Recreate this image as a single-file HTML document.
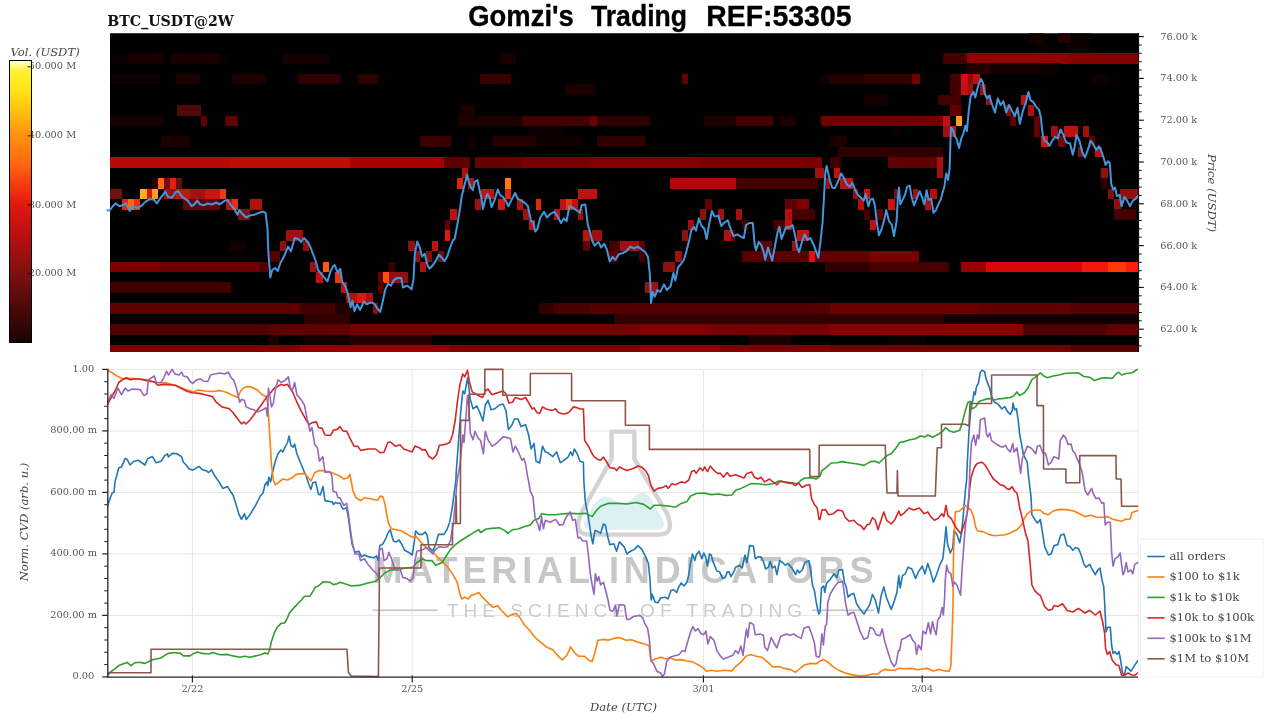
<!DOCTYPE html>
<html lang="en"><head><meta charset="utf-8"><title>Gomzi's Trading REF:53305</title>
<style>
html,body{margin:0;padding:0;background:#fff;}
body{width:1280px;height:720px;overflow:hidden;}
svg{display:block;}
.tk{font-family:'DejaVu Serif', 'Liberation Serif', serif;font-size:9.8px;fill:#555;}
.it{font-family:'DejaVu Serif', 'Liberation Serif', serif;font-style:italic;fill:#444;}
.lg{font-family:'DejaVu Serif', 'Liberation Serif', serif;font-size:11.6px;fill:#444;}
.ln{fill:none;stroke-width:1.6;stroke-linejoin:round;stroke-linecap:round;}
</style></head><body>
<svg width="1280" height="720" viewBox="0 0 1280 720">
<defs>
<linearGradient id="cb" x1="0" y1="0" x2="0" y2="1">
<stop offset="0.0000" stop-color="#ffffe0"/>
<stop offset="0.0089" stop-color="#ffffb8"/>
<stop offset="0.0230" stop-color="#fff870"/>
<stop offset="0.0408" stop-color="#fff030"/>
<stop offset="0.1046" stop-color="#ffe418"/>
<stop offset="0.1649" stop-color="#ffc810"/>
<stop offset="0.2677" stop-color="#ff9010"/>
<stop offset="0.3635" stop-color="#ff6a10"/>
<stop offset="0.4379" stop-color="#f43c10"/>
<stop offset="0.4840" stop-color="#ec2410"/>
<stop offset="0.5124" stop-color="#e01810"/>
<stop offset="0.6223" stop-color="#b81010"/>
<stop offset="0.7535" stop-color="#801010"/>
<stop offset="0.8848" stop-color="#480808"/>
<stop offset="0.9734" stop-color="#260505"/>
<stop offset="1.0000" stop-color="#180303"/>
</linearGradient>
<clipPath id="hc"><rect x="110.0" y="33.25" width="1028.4" height="318.55"/></clipPath>
<clipPath id="lc"><rect x="107" y="368" width="1031.5" height="310"/></clipPath>
</defs>
<rect width="1280" height="720" fill="#fff"/>
<text y="25.8" style="font-family:'Liberation Sans', 'DejaVu Sans', sans-serif;font-weight:bold;font-size:30.4px;fill:#000;stroke:#000;stroke-width:0.35;stroke-linejoin:round;">
<tspan x="468.3" textLength="105.5" lengthAdjust="spacingAndGlyphs">Gomzi's</tspan>
<tspan x="591" textLength="96" lengthAdjust="spacingAndGlyphs">Trading</tspan>
<tspan x="706.2" textLength="145.3" lengthAdjust="spacingAndGlyphs">REF:53305</tspan>
</text>
<text x="107.3" y="26.2" style="font-family:'DejaVu Serif', 'Liberation Serif', serif;font-weight:bold;font-size:14.2px;fill:#111;">BTC_USDT@2W</text>
<text class="it" x="10.5" y="55.6" style="font-size:11.6px;">Vol. (USDT)</text>
<text class="tk" x="28.8" y="69.4">50.000 M</text>
<text class="tk" x="28.8" y="138.4">40.000 M</text>
<text class="tk" x="28.8" y="207.5">30.000 M</text>
<text class="tk" x="28.8" y="276.4">20.000 M</text>
<rect x="9.5" y="60.5" width="22" height="282" fill="url(#cb)" stroke="#000" stroke-width="1"/>
<line x1="27.5" y1="66.8" x2="31.5" y2="66.8" stroke="#000" stroke-width="0.8"/>
<line x1="27.5" y1="135.8" x2="31.5" y2="135.8" stroke="#000" stroke-width="0.8"/>
<line x1="27.5" y1="204.8" x2="31.5" y2="204.8" stroke="#000" stroke-width="0.8"/>
<line x1="27.5" y1="273.8" x2="31.5" y2="273.8" stroke="#000" stroke-width="0.8"/>
<rect x="110.0" y="33.25" width="1028.4" height="318.55" fill="#000"/>
<g clip-path="url(#hc)" shape-rendering="crispEdges">
<rect x="1029" y="32.1" width="15" height="10.5" fill="#170000"/>
<rect x="1058" y="32.1" width="13" height="10.5" fill="#250000"/>
<rect x="1071" y="32.1" width="19" height="10.5" fill="#0c0000"/>
<rect x="1066" y="42.5" width="23" height="10.5" fill="#0f0000"/>
<rect x="1034" y="42.5" width="16" height="10.5" fill="#090000"/>
<rect x="110.2" y="53" width="17.8" height="10.5" fill="#090000"/>
<rect x="128" y="53" width="36" height="10.5" fill="#190000"/>
<rect x="170" y="53" width="50" height="10.5" fill="#190000"/>
<rect x="220" y="53" width="10" height="10.5" fill="#090000"/>
<rect x="282" y="53" width="47" height="10.5" fill="#130000"/>
<rect x="500" y="53" width="16" height="10.5" fill="#190000"/>
<rect x="943" y="53" width="24" height="10.5" fill="#440000"/>
<rect x="967" y="53" width="103" height="10.5" fill="#940000"/>
<rect x="1070" y="53" width="68.4" height="10.5" fill="#840000"/>
<rect x="967" y="63.4" width="24" height="10.5" fill="#250000"/>
<rect x="991" y="63.4" width="60" height="10.5" fill="#170000"/>
<rect x="1040" y="63.4" width="20" height="10.5" fill="#0f0000"/>
<rect x="110.2" y="73.8" width="49.8" height="10.5" fill="#0c0000"/>
<rect x="176" y="73.8" width="24" height="10.5" fill="#1c0000"/>
<rect x="232" y="73.8" width="34" height="10.5" fill="#1c0000"/>
<rect x="298" y="73.8" width="43" height="10.5" fill="#310000"/>
<rect x="358" y="73.8" width="20" height="10.5" fill="#2e0000"/>
<rect x="480" y="73.8" width="31" height="10.5" fill="#390000"/>
<rect x="682" y="73.8" width="6" height="10.5" fill="#600000"/>
<rect x="820" y="73.8" width="10" height="10.5" fill="#0f0000"/>
<rect x="830" y="73.8" width="34" height="10.5" fill="#250000"/>
<rect x="864" y="73.8" width="48" height="10.5" fill="#330000"/>
<rect x="912" y="73.8" width="8" height="10.5" fill="#700000"/>
<rect x="950" y="73.8" width="11" height="10.5" fill="#440000"/>
<rect x="961" y="73.8" width="7" height="10.5" fill="#d01010"/>
<rect x="968" y="73.8" width="5" height="10.5" fill="#900808"/>
<rect x="973" y="73.8" width="7" height="10.5" fill="#c01010"/>
<rect x="1092" y="73.8" width="18" height="10.5" fill="#0f0000"/>
<rect x="565" y="84.2" width="31" height="10.5" fill="#1c0000"/>
<rect x="950" y="84.2" width="11" height="10.5" fill="#440000"/>
<rect x="961" y="84.2" width="7" height="10.5" fill="#c01010"/>
<rect x="968" y="84.2" width="5" height="10.5" fill="#a01010"/>
<rect x="980" y="84.2" width="6" height="10.5" fill="#a01010"/>
<rect x="864" y="94.7" width="24" height="10.5" fill="#150000"/>
<rect x="938" y="94.7" width="23" height="10.5" fill="#440000"/>
<rect x="986" y="94.7" width="5" height="10.5" fill="#a01010"/>
<rect x="1021" y="94.7" width="6" height="10.5" fill="#c01010"/>
<rect x="176.6" y="105.1" width="24.4" height="10.5" fill="#500808"/>
<rect x="460" y="105.1" width="15" height="10.5" fill="#1c0000"/>
<rect x="950" y="105.1" width="11" height="10.5" fill="#600000"/>
<rect x="1006" y="105.1" width="5" height="10.5" fill="#801010"/>
<rect x="1028" y="105.1" width="6" height="10.5" fill="#b01010"/>
<rect x="110.2" y="115.5" width="53.8" height="10.5" fill="#170000"/>
<rect x="201" y="115.5" width="6" height="10.5" fill="#600000"/>
<rect x="225" y="115.5" width="12.5" height="10.5" fill="#600000"/>
<rect x="458" y="115.5" width="64" height="10.5" fill="#1c0000"/>
<rect x="522" y="115.5" width="68" height="10.5" fill="#440000"/>
<rect x="590" y="115.5" width="6.5" height="10.5" fill="#700000"/>
<rect x="596.5" y="115.5" width="53.5" height="10.5" fill="#2e0000"/>
<rect x="704" y="115.5" width="32" height="10.5" fill="#1c0000"/>
<rect x="736" y="115.5" width="37" height="10.5" fill="#440000"/>
<rect x="779" y="115.5" width="17" height="10.5" fill="#1c0000"/>
<rect x="820.6" y="115.5" width="9.4" height="10.5" fill="#700000"/>
<rect x="830" y="115.5" width="113.4" height="10.5" fill="#6c0000"/>
<rect x="943.4" y="115.5" width="6.6" height="10.5" fill="#c01010"/>
<rect x="955.6" y="115.5" width="6.4" height="10.5" fill="#ffa010"/>
<rect x="1010" y="115.5" width="5.6" height="10.5" fill="#600000"/>
<rect x="1034" y="115.5" width="6" height="10.5" fill="#600000"/>
<rect x="528" y="126" width="37" height="10.5" fill="#090000"/>
<rect x="894" y="126" width="7" height="10.5" fill="#0f0000"/>
<rect x="943.4" y="126" width="6.6" height="10.5" fill="#a01010"/>
<rect x="950" y="126" width="5.6" height="10.5" fill="#c01010"/>
<rect x="1034" y="126" width="6" height="10.5" fill="#600000"/>
<rect x="1051" y="126" width="7" height="10.5" fill="#a01010"/>
<rect x="1064" y="126" width="13.5" height="10.5" fill="#c01010"/>
<rect x="1082.8" y="126" width="6.2" height="10.5" fill="#a01010"/>
<rect x="160.6" y="136.4" width="29.1" height="10.5" fill="#1c0000"/>
<rect x="420" y="136.4" width="31" height="10.5" fill="#390000"/>
<rect x="468" y="136.4" width="8" height="10.5" fill="#0f0000"/>
<rect x="493" y="136.4" width="42.6" height="10.5" fill="#250000"/>
<rect x="535.6" y="136.4" width="46.4" height="10.5" fill="#0f0000"/>
<rect x="596.5" y="136.4" width="48.5" height="10.5" fill="#2e0000"/>
<rect x="830" y="136.4" width="17" height="10.5" fill="#1c0000"/>
<rect x="1041" y="136.4" width="6.5" height="10.5" fill="#e01010"/>
<rect x="1058" y="136.4" width="6.5" height="10.5" fill="#700808"/>
<rect x="1089" y="136.4" width="6" height="10.5" fill="#600000"/>
<rect x="837.5" y="146.8" width="105" height="10.5" fill="#2e0000"/>
<rect x="1077.5" y="146.8" width="5.2" height="10.5" fill="#801010"/>
<rect x="1095" y="146.8" width="7" height="10.5" fill="#c01010"/>
<rect x="110.2" y="157.3" width="119.8" height="10.5" fill="#b80a05"/>
<rect x="230" y="157.3" width="120" height="10.5" fill="#c00c06"/>
<rect x="350" y="157.3" width="93.8" height="10.5" fill="#a80000"/>
<rect x="443.8" y="157.3" width="26.2" height="10.5" fill="#5c0000"/>
<rect x="474.7" y="157.3" width="47.3" height="10.5" fill="#680000"/>
<rect x="522" y="157.3" width="68" height="10.5" fill="#780000"/>
<rect x="590" y="157.3" width="110" height="10.5" fill="#840000"/>
<rect x="700" y="157.3" width="121.6" height="10.5" fill="#7a0000"/>
<rect x="830" y="157.3" width="11" height="10.5" fill="#400000"/>
<rect x="888" y="157.3" width="49" height="10.5" fill="#600000"/>
<rect x="937" y="157.3" width="6.4" height="10.5" fill="#a81010"/>
<rect x="462" y="167.7" width="6" height="10.5" fill="#b01010"/>
<rect x="815" y="167.7" width="9" height="10.5" fill="#a01010"/>
<rect x="833.8" y="167.7" width="6.2" height="10.5" fill="#c01010"/>
<rect x="937" y="167.7" width="6.4" height="10.5" fill="#a01010"/>
<rect x="1101" y="167.7" width="6.5" height="10.5" fill="#901010"/>
<rect x="152" y="178.1" width="6" height="10.5" fill="#2e0000"/>
<rect x="158" y="178.1" width="6.4" height="10.5" fill="#ff6a10"/>
<rect x="164.4" y="178.1" width="5.6" height="10.5" fill="#701010"/>
<rect x="170.2" y="178.1" width="6" height="10.5" fill="#e02010"/>
<rect x="176.2" y="178.1" width="5.8" height="10.5" fill="#601010"/>
<rect x="456.5" y="178.1" width="6" height="10.5" fill="#e02010"/>
<rect x="468" y="178.1" width="6" height="10.5" fill="#b01010"/>
<rect x="504.7" y="178.1" width="6.2" height="10.5" fill="#ff7a10"/>
<rect x="669.7" y="178.1" width="66.2" height="10.5" fill="#b00808"/>
<rect x="736" y="178.1" width="81.8" height="10.5" fill="#440000"/>
<rect x="826" y="178.1" width="4" height="10.5" fill="#a01010"/>
<rect x="840" y="178.1" width="12.5" height="10.5" fill="#c01010"/>
<rect x="1101" y="178.1" width="6.5" height="10.5" fill="#2e0000"/>
<rect x="110.2" y="188.5" width="11.8" height="10.5" fill="#701010"/>
<rect x="140.4" y="188.5" width="6.2" height="10.5" fill="#ffb020"/>
<rect x="146.6" y="188.5" width="5.6" height="10.5" fill="#d01810"/>
<rect x="152.2" y="188.5" width="6" height="10.5" fill="#ffa018"/>
<rect x="164.4" y="188.5" width="11.6" height="10.5" fill="#a01010"/>
<rect x="176" y="188.5" width="14" height="10.5" fill="#c01810"/>
<rect x="190" y="188.5" width="15" height="10.5" fill="#a81010"/>
<rect x="205" y="188.5" width="14.7" height="10.5" fill="#c41810"/>
<rect x="219.7" y="188.5" width="6.6" height="10.5" fill="#f03818"/>
<rect x="480.9" y="188.5" width="13.5" height="10.5" fill="#c01010"/>
<rect x="504.7" y="188.5" width="6.2" height="10.5" fill="#e02010"/>
<rect x="577.8" y="188.5" width="18.7" height="10.5" fill="#c01010"/>
<rect x="852.5" y="188.5" width="5.5" height="10.5" fill="#901010"/>
<rect x="863.8" y="188.5" width="6.2" height="10.5" fill="#d01010"/>
<rect x="893.8" y="188.5" width="3.8" height="10.5" fill="#701010"/>
<rect x="912.5" y="188.5" width="5.5" height="10.5" fill="#a01010"/>
<rect x="930" y="188.5" width="7" height="10.5" fill="#b01010"/>
<rect x="1107.5" y="188.5" width="6.5" height="10.5" fill="#801010"/>
<rect x="1119.7" y="188.5" width="18.7" height="10.5" fill="#901010"/>
<rect x="122.2" y="199" width="5.8" height="10.5" fill="#e02810"/>
<rect x="128" y="199" width="6" height="10.5" fill="#ff6a10"/>
<rect x="134" y="199" width="6" height="10.5" fill="#e83010"/>
<rect x="183" y="199" width="37" height="10.5" fill="#600808"/>
<rect x="226.3" y="199" width="5.2" height="10.5" fill="#c01010"/>
<rect x="231.5" y="199" width="6" height="10.5" fill="#e83010"/>
<rect x="249.7" y="199" width="12.3" height="10.5" fill="#b01010"/>
<rect x="474.7" y="199" width="6.2" height="10.5" fill="#a01010"/>
<rect x="498" y="199" width="6.7" height="10.5" fill="#d01810"/>
<rect x="516.9" y="199" width="6.5" height="10.5" fill="#b01010"/>
<rect x="535.6" y="199" width="5.6" height="10.5" fill="#e02810"/>
<rect x="560" y="199" width="6" height="10.5" fill="#c01010"/>
<rect x="566" y="199" width="6" height="10.5" fill="#f03010"/>
<rect x="572" y="199" width="5.8" height="10.5" fill="#c01010"/>
<rect x="705" y="199" width="7" height="10.5" fill="#600000"/>
<rect x="785" y="199" width="12" height="10.5" fill="#600000"/>
<rect x="797" y="199" width="12" height="10.5" fill="#800000"/>
<rect x="858" y="199" width="5.8" height="10.5" fill="#b01010"/>
<rect x="888" y="199" width="6.7" height="10.5" fill="#d01010"/>
<rect x="924.7" y="199" width="6.3" height="10.5" fill="#b01010"/>
<rect x="1114" y="199" width="6.6" height="10.5" fill="#901010"/>
<rect x="237.5" y="209.4" width="12.2" height="10.5" fill="#801010"/>
<rect x="450.3" y="209.4" width="6.6" height="10.5" fill="#c01010"/>
<rect x="523.4" y="209.4" width="5.6" height="10.5" fill="#a01010"/>
<rect x="554.4" y="209.4" width="5.6" height="10.5" fill="#b01010"/>
<rect x="577.8" y="209.4" width="5.6" height="10.5" fill="#a01010"/>
<rect x="699.7" y="209.4" width="6.3" height="10.5" fill="#901010"/>
<rect x="717.5" y="209.4" width="6.5" height="10.5" fill="#a01010"/>
<rect x="736" y="209.4" width="6" height="10.5" fill="#a01010"/>
<rect x="785" y="209.4" width="6.6" height="10.5" fill="#b01010"/>
<rect x="791.6" y="209.4" width="23.4" height="10.5" fill="#440000"/>
<rect x="863.8" y="209.4" width="6.2" height="10.5" fill="#440000"/>
<rect x="877" y="209.4" width="5.5" height="10.5" fill="#600000"/>
<rect x="1114" y="209.4" width="21.6" height="10.5" fill="#440000"/>
<rect x="444.7" y="219.8" width="5.6" height="10.5" fill="#600000"/>
<rect x="529" y="219.8" width="5.7" height="10.5" fill="#c01010"/>
<rect x="688" y="219.8" width="6" height="10.5" fill="#a01010"/>
<rect x="742" y="219.8" width="5.5" height="10.5" fill="#440000"/>
<rect x="773" y="219.8" width="12" height="10.5" fill="#440000"/>
<rect x="785" y="219.8" width="6.6" height="10.5" fill="#c01010"/>
<rect x="870" y="219.8" width="6" height="10.5" fill="#c01010"/>
<rect x="286" y="230.3" width="17" height="10.5" fill="#a01010"/>
<rect x="444.7" y="230.3" width="5.6" height="10.5" fill="#e01810"/>
<rect x="583.4" y="230.3" width="6.6" height="10.5" fill="#c01010"/>
<rect x="592" y="230.3" width="10" height="10.5" fill="#a01010"/>
<rect x="682" y="230.3" width="6" height="10.5" fill="#901010"/>
<rect x="724" y="230.3" width="6.6" height="10.5" fill="#b01010"/>
<rect x="730.6" y="230.3" width="4.4" height="10.5" fill="#600000"/>
<rect x="797" y="230.3" width="12.4" height="10.5" fill="#c01010"/>
<rect x="230" y="240.7" width="15" height="10.5" fill="#150000"/>
<rect x="279.7" y="240.7" width="6.3" height="10.5" fill="#901010"/>
<rect x="303" y="240.7" width="6" height="10.5" fill="#901010"/>
<rect x="408" y="240.7" width="6.7" height="10.5" fill="#901010"/>
<rect x="432" y="240.7" width="6" height="10.5" fill="#c01010"/>
<rect x="583.4" y="240.7" width="6.6" height="10.5" fill="#600000"/>
<rect x="608.8" y="240.7" width="11.2" height="10.5" fill="#440000"/>
<rect x="620" y="240.7" width="18.8" height="10.5" fill="#a01010"/>
<rect x="638.8" y="240.7" width="6.2" height="10.5" fill="#600000"/>
<rect x="759.7" y="240.7" width="12.3" height="10.5" fill="#600000"/>
<rect x="791.6" y="240.7" width="5.4" height="10.5" fill="#a01010"/>
<rect x="269" y="251.1" width="10.7" height="10.5" fill="#500000"/>
<rect x="414.7" y="251.1" width="5.6" height="10.5" fill="#901010"/>
<rect x="426" y="251.1" width="6" height="10.5" fill="#801010"/>
<rect x="438" y="251.1" width="5.8" height="10.5" fill="#701010"/>
<rect x="608.8" y="251.1" width="9.2" height="10.5" fill="#600000"/>
<rect x="638.8" y="251.1" width="6.2" height="10.5" fill="#400000"/>
<rect x="675.3" y="251.1" width="6.7" height="10.5" fill="#a01010"/>
<rect x="742" y="251.1" width="67.4" height="10.5" fill="#580000"/>
<rect x="809.4" y="251.1" width="5.6" height="10.5" fill="#e01010"/>
<rect x="815" y="251.1" width="15" height="10.5" fill="#600000"/>
<rect x="830" y="251.1" width="40" height="10.5" fill="#640000"/>
<rect x="870" y="251.1" width="49" height="10.5" fill="#7a0000"/>
<rect x="110.2" y="261.6" width="49.8" height="10.5" fill="#7c0000"/>
<rect x="160" y="261.6" width="100" height="10.5" fill="#6c0000"/>
<rect x="260" y="261.6" width="7.5" height="10.5" fill="#500000"/>
<rect x="309.7" y="261.6" width="6.3" height="10.5" fill="#a01010"/>
<rect x="322.8" y="261.6" width="6.6" height="10.5" fill="#ff5a10"/>
<rect x="389.4" y="261.6" width="5.6" height="10.5" fill="#400000"/>
<rect x="420.3" y="261.6" width="5.7" height="10.5" fill="#b01010"/>
<rect x="663" y="261.6" width="12.3" height="10.5" fill="#901010"/>
<rect x="825" y="261.6" width="45" height="10.5" fill="#300000"/>
<rect x="870" y="261.6" width="79" height="10.5" fill="#460000"/>
<rect x="961" y="261.6" width="24.6" height="10.5" fill="#980000"/>
<rect x="985.6" y="261.6" width="96.4" height="10.5" fill="#d80808"/>
<rect x="1082" y="261.6" width="25.5" height="10.5" fill="#f01808"/>
<rect x="1107.5" y="261.6" width="18.5" height="10.5" fill="#ff3808"/>
<rect x="1126" y="261.6" width="12.4" height="10.5" fill="#f82008"/>
<rect x="316.2" y="272" width="6.6" height="10.5" fill="#c01010"/>
<rect x="335" y="272" width="6" height="10.5" fill="#f03010"/>
<rect x="378" y="272" width="5.4" height="10.5" fill="#600000"/>
<rect x="383.4" y="272" width="6" height="10.5" fill="#ff5010"/>
<rect x="389.4" y="272" width="18.6" height="10.5" fill="#901010"/>
<rect x="110.2" y="282.4" width="120.8" height="10.5" fill="#400000"/>
<rect x="340.6" y="282.4" width="5.9" height="10.5" fill="#c01010"/>
<rect x="378" y="282.4" width="5.8" height="10.5" fill="#500000"/>
<rect x="645" y="282.4" width="12.5" height="10.5" fill="#a01010"/>
<rect x="346" y="292.9" width="4" height="10.5" fill="#a01010"/>
<rect x="350" y="292.9" width="7" height="10.5" fill="#b01010"/>
<rect x="357" y="292.9" width="9" height="10.5" fill="#e01810"/>
<rect x="366" y="292.9" width="6.5" height="10.5" fill="#b01010"/>
<rect x="110.2" y="303.3" width="189.8" height="10.5" fill="#5c0000"/>
<rect x="300" y="303.3" width="35" height="10.5" fill="#400000"/>
<rect x="335" y="303.3" width="21" height="10.5" fill="#200000"/>
<rect x="372.5" y="303.3" width="5.5" height="10.5" fill="#801010"/>
<rect x="539" y="303.3" width="15" height="10.5" fill="#300000"/>
<rect x="554" y="303.3" width="36" height="10.5" fill="#480000"/>
<rect x="590" y="303.3" width="240" height="10.5" fill="#540000"/>
<rect x="830" y="303.3" width="150" height="10.5" fill="#6c0000"/>
<rect x="980" y="303.3" width="90" height="10.5" fill="#600000"/>
<rect x="1070" y="303.3" width="68.4" height="10.5" fill="#540000"/>
<rect x="304" y="313.7" width="46" height="10.5" fill="#300000"/>
<rect x="614" y="313.7" width="216" height="10.5" fill="#300000"/>
<rect x="830" y="313.7" width="114" height="10.5" fill="#300000"/>
<rect x="944" y="313.7" width="194.4" height="10.5" fill="#120000"/>
<rect x="110.2" y="324.1" width="159.8" height="10.5" fill="#500000"/>
<rect x="270" y="324.1" width="80" height="10.5" fill="#600000"/>
<rect x="350" y="324.1" width="290" height="10.5" fill="#740000"/>
<rect x="640" y="324.1" width="70" height="10.5" fill="#800000"/>
<rect x="710" y="324.1" width="120" height="10.5" fill="#740000"/>
<rect x="830" y="324.1" width="193" height="10.5" fill="#8c0000"/>
<rect x="1023" y="324.1" width="84" height="10.5" fill="#500000"/>
<rect x="1107" y="324.1" width="31.4" height="10.5" fill="#600000"/>
<rect x="267.5" y="334.6" width="11.5" height="10.5" fill="#1c0000"/>
<rect x="304" y="334.6" width="46" height="10.5" fill="#150000"/>
<rect x="350" y="334.6" width="81.6" height="10.5" fill="#250000"/>
<rect x="747.5" y="334.6" width="44.1" height="10.5" fill="#1c0000"/>
<rect x="888" y="334.6" width="37" height="10.5" fill="#090000"/>
<rect x="110.2" y="345" width="189.8" height="10.5" fill="#800000"/>
<rect x="300" y="345" width="150" height="10.5" fill="#940000"/>
<rect x="450" y="345" width="190" height="10.5" fill="#7c0000"/>
<rect x="640" y="345" width="80" height="10.5" fill="#900000"/>
<rect x="720" y="345" width="110" height="10.5" fill="#7c0000"/>
<rect x="830" y="345" width="240" height="10.5" fill="#700000"/>
<rect x="1070" y="345" width="68.4" height="10.5" fill="#540000"/>
</g>
<path class="ln" d="M107.5 210.5L110 210L112.8 206.2L115.6 203.4L119.4 206.2L122.2 205.3L126 203.4L129.7 211L133.4 206.2L137.2 208L141 206.2L145.6 201.6L150.3 199L154 199.7L156.9 203.4L160.6 197.8L165.3 191.6L168 196.9L171.9 197.8L175.6 192.2L178.4 191.2L182.2 196.9L185 198.8L187.8 200.6L191.6 206.2L194.4 204.4L197.2 200.6L200 204.4L203.8 205.3L207.5 203.4L212.2 204.4L216 202.5L219.7 204.4L223.4 201.6L227.2 199.7L231 205.3L233.8 208L237.5 214.7L239.4 210L242.2 213.8L246 217.5L249.7 215.6L254.4 214.7L259 212.8L262.8 211.5L265.6 212.8L267.5 228.8L268.4 253L270.3 277.5L272.2 270L275 268L277.8 271L280.6 262.5L283.4 257.8L286.2 251.2L288 246.6L291 251.2L294.7 238L298.4 239L301.2 242L304 238L307.8 242L310.6 247.5L313.4 255L316.2 262.5L318 270L321.9 274.7L325.6 279.4L327.5 281.2L330.3 271.9L333 266.2L334.7 265L337.5 272.5L340.3 268.8L342.2 281.9L345 285.6L347.8 293L350.6 307.2L352.5 300.6L354.4 311L357.2 304.4L360 310L363.8 301.6L366.6 304.4L370.3 302.5L374 303.4L377.8 309L380.2 311.9L382.5 302.5L385.3 289.4L388 283.8L391 285.6L393.8 280L397.5 278L401.2 278L403 287.5L406.9 285.6L409.7 287.5L411.6 289.4L413.4 280L414.8 253.8L417.2 241.6L420 248L421.9 256.6L424.7 253.8L427.5 265L429.4 268.8L433 265L436 260.3L438.8 254.7L441.6 257.5L444.4 261.2L447.2 256.6L450 248L452.8 240.6L454.7 238.8L457.5 223.8L460.3 206.9L461.6 196.9L464.4 185.6L467.2 174.4L468.5 181L471 187.5L472.8 190.3L474.7 181.9L477.5 180L479.4 189.4L481.2 196.9L483 209L485 200.6L487.2 194L489.7 197.8L491.6 207.2L494.4 200.6L497.8 189.4L500 195L502.8 196.9L505.6 200.6L508.4 206.2L511.2 200.6L515 193L517.8 198.8L521.6 200.6L525.3 203.4L528 206.2L531 221.2L533.4 222.2L535.2 231.6L537.5 228.8L540.3 217.5L544 211.9L546.9 217.5L550.6 213.8L554.4 211.9L557.2 215.6L561 223L563.8 218.4L566.6 221.2L569.4 206.2L572.2 207.2L576 210L579.7 212.8L581.6 205.3L585.3 204.4L587.8 225L590 231.5L591.9 240L594.7 245.6L598.4 241.9L601.2 247.5L604 243.8L606.9 249.4L609.7 261.6L612.5 256.9L615.3 259.7L619 254L622.8 253L626.6 251.2L630.3 246.6L634 248.4L637.8 246.6L641.6 249.4L645.3 252.2L648 256.9L649.6 271.9L650.4 285L651 303L652.8 291.9L654.7 296.6L657.5 290L660.3 291.9L664 284.4L666.9 290L670.6 286.2L673.4 273L675.3 280.6L678 267.5L681 263.8L683.8 260L686.6 250.6L689.4 239.4L691.2 230.6L694 226.9L696 230.6L698.8 218.4L701.6 226L704.4 228.8L706.6 239L709 225L711.9 211L714.7 216.6L718.4 215.6L721.2 226L724 223L727.8 220.3L730.6 228.8L733.4 236.2L737.2 234.4L740 236.2L743.8 238L746 225L749.4 223L752.8 223L754.6 243.8L756 250.3L758.8 241.9L761.6 245.6L763.4 251.2L765.3 259.7L768 247.5L770 254L772.2 260.6L774.7 247.5L777.5 232.5L779.4 226.9L781.6 239L784 232.5L786 226.9L788.8 227.8L792.5 225L795.3 236.2L797.2 247.5L799 252.2L802 241.9L804.7 234.4L807.5 240L810.3 238L814 245.6L816 251.2L818.4 257.8L820.2 243.8L822.5 223L824 196.9L825.3 172.5L826.6 166L828.5 174.4L830 181L832.2 187.5L834.7 188.4L837.5 182.8L841.2 173.4L844 178L846.9 184.7L849.7 186.6L852.5 182.8L855.3 190.3L858 195L861 197.8L863.8 200.6L865.6 194L868.4 206.2L870.3 199.7L873 198.8L875 206.2L876.9 223L879 235.3L881.6 228.8L884.4 219.4L886.2 210L889 221.2L891.9 225L894 236.2L896.6 221.2L897.9 196.9L899 187.5L900.3 204.4L902.2 200.6L905 195L907.2 186.6L909.7 185.6L911.6 196.9L914 205.3L916.6 198.8L919.6 191.2L921.9 196.9L924.3 204.4L926.6 190.3L928.4 199.7L931.2 198.8L933.5 212.8L936 210L938.4 204.4L940.6 199.7L942.5 193L944.4 186.6L946.2 173.4L948 180L949.6 168.8L950.2 150L950.4 142.5L951 127.5L952.8 129.4L954.7 136L956.6 138.8L959 148L961.2 138.8L963.5 133L965.4 125.6L966.9 131.2L968.8 110.6L970.6 96.6L973.4 91.9L975.3 97.5L978 86.2L981 79L982.8 82.5L984.7 93.8L987 98.4L989.4 95.6L992.2 105L995 112.5L997.8 98.4L1000.6 105L1003.4 101.2L1006.2 112.5L1009 105L1011.9 110.6L1014.7 116.2L1017.5 107.8L1019.8 123.8L1023 110.6L1026 102.2L1028.4 91.9L1030.6 100.3L1033.4 102.2L1036.2 106.9L1039 109.7L1041 118L1041.8 127.5L1042.8 135L1044.7 140.6L1047.5 142.5L1049.4 146L1052.2 140.6L1055 136.9L1057.8 138.5L1060.6 129.4L1063.4 135L1066.2 142.5L1070 143.4L1072.8 154.7L1074.7 146.2L1076.6 135L1079.4 140.6L1082.2 151.9L1085 157.5L1087.8 150L1090.6 140.6L1093.4 144.4L1096.2 150L1099 146.2L1101.9 152.5L1104 159L1105.6 165L1107.9 161.2L1109.8 163L1111.2 183.8L1113 189.4L1115 187.5L1116.9 196L1119.7 195L1121.6 206.2L1124.4 196.9L1127.2 200.6L1130 206.2L1132.8 200.6L1135.6 198.8L1137.9 196" stroke="#4495da" style="stroke-width:2"/>
<line x1="1138.6" y1="33" x2="1138.6" y2="352" stroke="#000" stroke-width="1"/>
<line x1="1138.6" y1="345.9" x2="1141.8" y2="345.9" stroke="#000" stroke-width="0.9"/>
<line x1="1138.6" y1="337.6" x2="1141.8" y2="337.6" stroke="#000" stroke-width="0.9"/>
<line x1="1138.6" y1="329.2" x2="1143.8" y2="329.2" stroke="#000" stroke-width="1.1"/>
<text class="tk" x="1160.2" y="332.1">62.00 k</text>
<line x1="1138.6" y1="320.8" x2="1141.8" y2="320.8" stroke="#000" stroke-width="0.9"/>
<line x1="1138.6" y1="312.5" x2="1141.8" y2="312.5" stroke="#000" stroke-width="0.9"/>
<line x1="1138.6" y1="304.1" x2="1141.8" y2="304.1" stroke="#000" stroke-width="0.9"/>
<line x1="1138.6" y1="295.8" x2="1141.8" y2="295.8" stroke="#000" stroke-width="0.9"/>
<line x1="1138.6" y1="287.4" x2="1143.8" y2="287.4" stroke="#000" stroke-width="1.1"/>
<text class="tk" x="1160.2" y="290.3">64.00 k</text>
<line x1="1138.6" y1="279" x2="1141.8" y2="279" stroke="#000" stroke-width="0.9"/>
<line x1="1138.6" y1="270.7" x2="1141.8" y2="270.7" stroke="#000" stroke-width="0.9"/>
<line x1="1138.6" y1="262.3" x2="1141.8" y2="262.3" stroke="#000" stroke-width="0.9"/>
<line x1="1138.6" y1="254" x2="1141.8" y2="254" stroke="#000" stroke-width="0.9"/>
<line x1="1138.6" y1="245.6" x2="1143.8" y2="245.6" stroke="#000" stroke-width="1.1"/>
<text class="tk" x="1160.2" y="248.5">66.00 k</text>
<line x1="1138.6" y1="237.2" x2="1141.8" y2="237.2" stroke="#000" stroke-width="0.9"/>
<line x1="1138.6" y1="228.9" x2="1141.8" y2="228.9" stroke="#000" stroke-width="0.9"/>
<line x1="1138.6" y1="220.5" x2="1141.8" y2="220.5" stroke="#000" stroke-width="0.9"/>
<line x1="1138.6" y1="212.2" x2="1141.8" y2="212.2" stroke="#000" stroke-width="0.9"/>
<line x1="1138.6" y1="203.8" x2="1143.8" y2="203.8" stroke="#000" stroke-width="1.1"/>
<text class="tk" x="1160.2" y="206.7">68.00 k</text>
<line x1="1138.6" y1="195.4" x2="1141.8" y2="195.4" stroke="#000" stroke-width="0.9"/>
<line x1="1138.6" y1="187.1" x2="1141.8" y2="187.1" stroke="#000" stroke-width="0.9"/>
<line x1="1138.6" y1="178.7" x2="1141.8" y2="178.7" stroke="#000" stroke-width="0.9"/>
<line x1="1138.6" y1="170.4" x2="1141.8" y2="170.4" stroke="#000" stroke-width="0.9"/>
<line x1="1138.6" y1="162" x2="1143.8" y2="162" stroke="#000" stroke-width="1.1"/>
<text class="tk" x="1160.2" y="164.9">70.00 k</text>
<line x1="1138.6" y1="153.6" x2="1141.8" y2="153.6" stroke="#000" stroke-width="0.9"/>
<line x1="1138.6" y1="145.3" x2="1141.8" y2="145.3" stroke="#000" stroke-width="0.9"/>
<line x1="1138.6" y1="136.9" x2="1141.8" y2="136.9" stroke="#000" stroke-width="0.9"/>
<line x1="1138.6" y1="128.6" x2="1141.8" y2="128.6" stroke="#000" stroke-width="0.9"/>
<line x1="1138.6" y1="120.2" x2="1143.8" y2="120.2" stroke="#000" stroke-width="1.1"/>
<text class="tk" x="1160.2" y="123.1">72.00 k</text>
<line x1="1138.6" y1="111.8" x2="1141.8" y2="111.8" stroke="#000" stroke-width="0.9"/>
<line x1="1138.6" y1="103.5" x2="1141.8" y2="103.5" stroke="#000" stroke-width="0.9"/>
<line x1="1138.6" y1="95.1" x2="1141.8" y2="95.1" stroke="#000" stroke-width="0.9"/>
<line x1="1138.6" y1="86.8" x2="1141.8" y2="86.8" stroke="#000" stroke-width="0.9"/>
<line x1="1138.6" y1="78.4" x2="1143.8" y2="78.4" stroke="#000" stroke-width="1.1"/>
<text class="tk" x="1160.2" y="81.3">74.00 k</text>
<line x1="1138.6" y1="70" x2="1141.8" y2="70" stroke="#000" stroke-width="0.9"/>
<line x1="1138.6" y1="61.7" x2="1141.8" y2="61.7" stroke="#000" stroke-width="0.9"/>
<line x1="1138.6" y1="53.3" x2="1141.8" y2="53.3" stroke="#000" stroke-width="0.9"/>
<line x1="1138.6" y1="45" x2="1141.8" y2="45" stroke="#000" stroke-width="0.9"/>
<line x1="1138.6" y1="36.6" x2="1143.8" y2="36.6" stroke="#000" stroke-width="1.1"/>
<text class="tk" x="1160.2" y="39.5">76.00 k</text>
<text class="it" transform="translate(1208.2,193) rotate(90)" text-anchor="middle" style="font-size:11.6px;">Price (USDT)</text>
<line x1="107.8" y1="615.4" x2="1138" y2="615.4" stroke="#e6e6e6" stroke-width="1"/>
<line x1="107.8" y1="553.9" x2="1138" y2="553.9" stroke="#e6e6e6" stroke-width="1"/>
<line x1="107.8" y1="492.4" x2="1138" y2="492.4" stroke="#e6e6e6" stroke-width="1"/>
<line x1="107.8" y1="430.9" x2="1138" y2="430.9" stroke="#e6e6e6" stroke-width="1"/>
<line x1="107.8" y1="369.4" x2="1138" y2="369.4" stroke="#e6e6e6" stroke-width="1"/>
<line x1="192.4" y1="369.4" x2="192.4" y2="676.9" stroke="#e6e6e6" stroke-width="1"/>
<line x1="412.2" y1="369.4" x2="412.2" y2="676.9" stroke="#e6e6e6" stroke-width="1"/>
<line x1="703.4" y1="369.4" x2="703.4" y2="676.9" stroke="#e6e6e6" stroke-width="1"/>
<line x1="922.2" y1="369.4" x2="922.2" y2="676.9" stroke="#e6e6e6" stroke-width="1"/>
<line x1="1138" y1="369.4" x2="1138" y2="676.9" stroke="#ececec" stroke-width="1"/>
<g>
<path d="M611.6 431.6 L611.6 459 L581 513.5 Q572.5 534.6 589 534.6 L659 534.6 Q675.5 534.6 667 513.5 L634.4 459 L634.4 431.6 Z" fill="none" stroke="#d3d3d3" stroke-width="4.4" stroke-linejoin="round"/>
<path d="M593 506 Q600 494 611 498 Q622 507 633 498 Q641 489 649 496 L663 520 Q666 529.5 657 529.5 L591 529.5 Q582 529.5 585 520 Z" fill="#dceff1"/>
<text x="372.5" y="583" textLength="501" lengthAdjust="spacing" style="font-family:'Liberation Sans', 'DejaVu Sans', sans-serif;font-weight:bold;font-size:36px;fill:#c7c7c7;">MATERIAL INDICATORS</text>
<text x="447" y="617.3" textLength="355" lengthAdjust="spacing" style="font-family:'Liberation Sans', 'DejaVu Sans', sans-serif;font-size:19px;fill:#cbcbcb;">THE SCIENCE OF TRADING</text>
<rect x="372.5" y="609.3" width="65" height="1.8" fill="#cbcbcb"/>
<rect x="812" y="609.3" width="62" height="1.8" fill="#cbcbcb"/>
</g>
<g clip-path="url(#lc)">
<path class="ln" d="M107.5 506.2L110.3 497.8L112.2 493L114 492.2L115 481.9L118.8 467.8L121.5 466.9L125.3 458.4L127.2 459.4L130 465L133.8 461.2L138.4 460.3L142.2 463L145 465L147.8 458.4L152.5 456.6L156.2 462.8L161 461.2L164.7 455.6L167.5 453.8L168.4 457L172.2 453.4L176.9 453.8L181.5 456.6L183.4 462.2L186.2 465L189 468.8L192.8 470.2L196.5 467.8L199.4 466.5L202.2 469.7L206 470.6L208.8 472.5L211.5 469.7L214.4 475.3L219 481.9L222.8 488.4L227.5 486.6L230.3 491.2L233 495L236 504.4L238.8 513.8L241.5 519.4L244.4 513.8L246.2 519.4L250 514.7L255.6 505.3L260.3 496L263 493L265 484.7L266.9 481.9L267.8 485.6L268.8 477.2L270.6 481.9L272.5 472.5L275.3 461.2L278 453.8L281 450L282.8 451.9L284.7 448L287.5 442.5L289 436L290.9 445.3L293 447.2L294.6 444L296.9 453.8L300.6 463L303.4 469.7L306.2 476.2L309 484.7L311 489.4L312.8 482.8L315.6 481.9L318.4 494L320.3 495L323 486.6L325 500.6L332.5 502L333.4 504.4L335.3 502.5L338 503.4L340 503L342.8 509L346.6 508L348.4 517.5L350.3 532.5L352.2 544.7L355 552.2L358.8 551.2L361.6 556.9L364.4 555L369 556.9L373.8 557.8L376.6 555.9L378.4 560.6L379.8 545.6L383 543.8L386 538L387.8 533.4L390.2 529.7L393.4 541L396.2 541.9L399 540L401.9 544.7L404.7 550.3L408.4 552.2L412.2 555L414 543.8L415.6 531L418.8 534.4L422.5 534.4L425.3 532L427.2 535.3L429 547.5L432.8 550.9L435.6 544.7L438.4 534.4L444 534.4L446.9 529.7L449.7 522.2L452.5 506.2L454.4 491.2L455.9 480L456.2 472.5L459 435L461 408.8L462.8 391L464.7 393.8L467.5 377.8L469 388L470.3 399.4L473 408.8L476.9 406L480.6 414.4L482.9 421L485.3 405L488 400.3L491 409.7L494.7 408.8L499.4 405L503 404L506 410.6L508.4 429.4L511.6 425.6L514.4 419L518 419L521 426.6L525.6 424.7L528.4 434L531.2 449L534 443.4L536 461.2L539.7 463L542.5 446.2L545.3 451.9L548 452.8L552.8 456.6L556.6 451.9L560.3 462.8L565 459.4L567.8 457.5L570.6 451.9L572.5 455.6L574.4 449L577.2 453.8L580 461.2L583.4 462.2L583.8 480L585.2 500.6L588.4 517.5L591.2 536.2L592.8 543.8L595 530.6L597.8 531.6L600.6 533.4L603.4 524L605.3 525L608 538L610 544.7L613.8 543.8L616.6 551.2L619.4 541.9L624 546.6L626.9 554L630.6 551.2L634.4 549.4L638 545.6L641.9 549.4L645.6 556.9L648.4 563.4L649.8 577.5L651.2 600L652.2 594.4L655 601.9L657.8 602.8L660.6 598L665.3 597.2L668 599L671 590.6L673.8 589.7L676.6 592.5L678.4 587.8L681.2 583L684 586L686.9 582.2L688.8 574.7L690.6 562.5L692.5 554L694.8 560.6L696.2 555L699 551.2L701.9 558.8L703.8 553L705.6 556.9L707.5 566.2L709.4 554L711.2 555L713 561.6L716.9 571L719.7 571.9L722.5 578.4L725.3 577.5L727.2 571.9L729 571.9L731 576.6L733.8 571.9L735.6 567.2L739.4 565.3L742.2 568L745 555L746.9 562.5L749.7 545.6L753.4 546L755.3 558.8L758 556.9L761 556.9L763.8 562.5L765.6 569L768.4 567.2L770.3 561.6L772.2 568L775 566.2L776.9 574.7L779.7 560.6L782.5 562.5L785.3 565.3L788 563.4L791.9 568L795.6 574.7L797.5 570L799.4 572.8L802.2 570L805 562.5L808.8 560.6L810.6 570L812.5 585L814.4 590.6L816.2 601.9L818 611.2L819 614L820 612L821 596.2L821.5 587.8L823.8 586L824.7 592.5L826.6 583L830.3 579.4L834 573.8L836.9 577.5L838.8 570L842.5 569.6L844.4 582.2L846.2 586.9L848 597.2L851 594.4L853.8 593.4L856.6 603.8L860.3 609.4L864 614L866.9 609.4L869.7 604.7L872.5 594.4L875.3 600L878.5 613L881 596.2L883.8 586.9L886.6 598L891.2 609.4L894 601.9L896.9 592.5L898.8 575.6L900.2 587.8L902.5 575.6L905.3 573.8L908 567.2L911.9 569L915.6 578.4L918.4 571.9L922.2 566.2L925 573.8L927.8 563.4L930.6 571.9L933.4 582.2L936.2 575.6L940 564.4L942.8 558.8L944.7 541.9L946 526.9L947.5 543.8L950.3 553L952.8 547.5L954 530.6L956.9 534.4L959.7 542.8L961.6 532.5L963.4 513.8L965.3 491.2L966.6 480L967.2 465L969 431.2L971 406.9L972.8 400.3L974 391.9L975.2 394.7L976.6 386.2L978.4 383.4L980.3 372.2L982.2 370.3L984.6 371.6L986 378.8L987.8 383.4L989.7 388L991.6 396.6L994.4 402.2L998 404L1001.9 409L1004.7 406.5L1007.5 411.6L1010.3 414.4L1012.2 410.6L1013 403L1014.6 409.7L1016.5 408.8L1018.4 421.9L1019.7 435L1021.6 444.4L1023.4 454.7L1025.3 458.4L1027.2 462.2L1028.5 476.2L1029 480L1031 496.9L1031.9 514.7L1034.7 519.4L1037.5 523L1040.3 519.4L1041.9 528.8L1044.7 546.6L1048.4 555L1051.2 554L1054 545.6L1057.8 544.7L1060.6 535.3L1064 534L1067.2 545.6L1070 546.6L1072.8 550.3L1075.6 547.5L1078.4 548.4L1081.2 555L1084 564.4L1086 567.2L1089.7 564.4L1092.5 570L1095.3 574.7L1097.8 570L1100 568L1101.9 579.4L1103.8 586.9L1104.7 603.8L1106 631.9L1107.5 627.2L1110.3 627.2L1111.6 645L1113 653.4L1115 651.6L1116.9 654.4L1119 651.6L1120.6 660L1122.5 673L1124.4 675L1126.2 666.6L1128 668.4L1131 671.2L1133.8 666.6L1137.5 661" stroke="#1f77b4"/>
<path class="ln" d="M107.5 370.3L111.2 372.2L116.9 376L122.5 378.8L130 378.4L137.5 378.8L146.9 379.7L156.2 382.5L165.6 382.9L175 385.3L184.4 389L193.8 391.9L197.5 390L205 391L212.5 391.5L220 390.4L227.5 392.8L233 395.6L237.8 397.5L240.6 391L243.4 388L248 386.6L251.9 387.2L257.5 390L262.2 394.7L266 396.6L267.8 403L269.7 435L271.5 465L273.4 480L275.3 484.7L278 482.8L282.8 479L287.5 480L292.2 477.8L296 474.4L304.4 473.4L308 477.2L311 481L314.7 472.5L319.4 470.6L323 470.6L329.7 472L336.2 474.4L340 476.2L343.8 479L347.5 478L349.8 474.4L351 480L353 491.2L356 497.8L360.6 500.6L364.4 497.8L370 498.8L377.5 500.2L380.3 496L383 496.9L385 504.4L386.9 515.6L388.8 524L391.5 528.8L396.2 529.7L401.9 531L407.5 534.4L412.2 537.2L416 536.2L420.6 541.9L425.3 546.6L430 550.3L435.6 555L441.2 560.6L446.9 566.2L452.5 573.8L457.2 582.2L460 594.4L461.9 599L464.7 597.2L468.4 599L471.2 595.3L475 594.4L478.8 592.5L482.5 597.2L488 602.8L492.8 607.5L497.5 605.6L502.2 611.2L505 614L507.8 616.9L511.6 614.6L516.2 613.5L520 617.8L524.7 625.3L529.4 630L535 637.5L540.6 642.2L546.2 646.9L552.8 649.7L557.5 655.3L562.2 660L566.9 655.3L570.6 646.9L574.4 652.5L578 655.9L580 656.2L584.7 656.2L588.4 660L592.2 661.5L595 652.5L597.8 640.3L604.4 639.4L608 640.3L613.8 638.4L619.4 637.5L626 640.3L631.6 639.8L638 642.2L644.7 644L649 645.4L650.9 661L655 659L660.6 657.2L666.2 659L670 657.8L675.6 660L681.2 659.6L686.9 661L692.5 661.9L698 664.7L703.8 668.4L706.6 671.2L711.2 670.3L716.9 671.2L724.4 670.3L731.9 670.9L735.6 666.6L741.2 661.9L745.9 656.2L750.6 654.4L756.2 656.2L761.9 657.2L767.5 661.9L773 667L778.8 666.6L784.4 668.4L790 669.4L795.6 672.2L801.2 667.5L805 664.7L810.6 663.4L816.2 663.8L820 661L823.8 659.6L827.5 661.9L833 666.6L838.8 670.3L844.4 672.8L851.9 674.6L859.4 676L866.9 675.4L872.5 674L878 674L881 671.2L884.7 669.4L890.3 670.3L895 670.3L898.8 668.4L904.4 668.8L911.9 668.4L917.5 669.8L922.2 669L927.8 668.4L933.4 670.9L939 669.4L944.7 670.9L949.4 671.2L950.9 665.6L952.2 631.9L953 603.8L953.5 555L954.6 526.9L955.4 511.9L959.7 511L963.4 507.2L965.3 505.3L968 508L971 510L973.8 517.5L975.6 526.9L977.5 531L983 531.6L988.8 534.4L994.4 535.7L1000 535.3L1005.6 534.8L1011.2 532.5L1016.9 529.7L1021.6 525L1024.4 518.4L1027.2 513.8L1031 511L1035.6 510L1040 510L1043.8 513.4L1048.4 514.7L1053 511L1058.8 509.4L1066.2 509.6L1073.8 511L1079.4 513.8L1085 516.6L1090.6 515.2L1096.2 517L1101.9 517.5L1107.5 516.6L1112.2 519L1116.9 520.3L1121.6 521.2L1125.3 519.4L1130 519L1131.9 512.8L1134.7 511.5L1137.9 510.4" stroke="#ff7f0e"/>
<path class="ln" d="M108.5 674.5L109.4 673L114 669.4L118.8 665.6L123.4 663.8L127.2 662.4L131 665.6L134.7 662.8L139.4 662.2L145 663.4L148.8 661.5L151.5 660L156.2 659L161 658L164.7 655.3L168.4 653.4L174 652.5L180.6 653.4L183.4 655.9L190 655.9L193.8 653.4L197.5 652L202.2 653.4L208.8 654L212.5 652.5L220 654.8L227.5 654.4L233 655.9L239.7 657.2L244.4 656.2L250 657.2L255.6 655.9L261.2 654.4L265 652.9L267.8 654L269.7 649.7L271.5 641.2L274.4 632.8L277.2 627.2L281 623.4L284.7 623L287.5 617.8L289.4 613L295 606.6L301.5 600L304.4 596.2L310 596.2L315.6 586.9L318.4 586L323 581.8L329.7 582.2L333.4 584.6L337.2 583.7L340 582.2L345.6 584L351.2 586L358.8 585.4L368 583L375.6 581.2L380.3 577.5L385 572.8L390.6 570L398 569.6L405.6 568L413 567.2L416.9 562.5L422.5 558.8L426.2 560.6L431.9 560.6L435.6 565.3L442.2 562.5L446.9 555L450.6 549.4L455.3 544.7L461.9 540L469.4 535.3L475 531.6L478.8 529.7L480.6 532.5L486.2 529L491.9 528.4L499.4 527.8L505 530.6L507.8 533.4L512.5 529.7L518 529L524.7 526.5L530.3 525L534 520.3L538.8 518.4L541.6 513.8L548 514.7L555.6 514.7L563 513.8L570.6 513.4L580 513.8L585.6 513.4L592.2 516.6L596 511L600.6 506.2L608 503.4L617.5 503.4L626.9 504L636.2 502.5L643.8 504.4L650.3 509L654 505.3L660.6 505.3L670 506.2L675.6 507.2L681.2 503.4L686.9 501.6L690.6 496L696.2 493.5L703.8 493L711.2 494.6L718.8 494L726.2 495.4L731.9 495L735.6 490.3L741.2 488.4L746.9 485.6L750.6 483.6L758 483.8L765.6 484.7L773 483.8L778.8 481L784.4 481.9L791.9 482.8L797.5 483.8L801.2 480L805 478L810.6 477.8L816.2 479L820 476.2L821.9 470.6L825.6 467.8L831.2 463L836.9 462.8L842.5 461.6L850 463L857.5 464L864 465.4L870.6 461.6L875.3 461.2L879 463L884.7 457.5L888.4 454.7L891.2 453.8L896 448L899.7 442.5L904.4 441.6L910 439.7L915.6 438.8L920.3 436L925 436.9L927.8 435L932.5 437.2L939 434L942.8 431.2L945.6 427.5L949.4 430.9L954 432.2L959.7 430.3L962.5 421.9L965.3 410.6L968 402.2L971 401.2L971.9 409L975.6 406.9L979.4 401.2L985 399.4L990.6 398.4L993.4 400.3L998 399L1003.8 398.4L1010.3 397.5L1014 395.6L1016.9 391.9L1019.7 395.6L1024.4 392.8L1028 388L1031.9 379.7L1035.6 376.9L1040.3 372.8L1043.8 376L1047.5 377.8L1053 376L1058.8 375L1064.4 373.5L1071.9 373L1078.4 372.8L1084 376.5L1089.7 377.2L1094.4 380.6L1100 378.4L1105.6 377.8L1112.2 378.4L1116 374L1118.8 372.2L1121.6 375L1126.2 373.5L1131.9 372.8L1137.5 369.4" stroke="#2ca02c"/>
<path class="ln" d="M107.5 404L111.2 397.5L115 391L118.8 382.5L122.5 379.7L126.2 377.8L130 379.7L137.5 378.8L146.9 380.6L154.4 382L158 385.3L163.8 384.4L175 385.3L180.6 388L186.2 391L191.9 392.8L199.4 393.4L205 394.7L212.5 396.6L216.2 402.2L221.9 406.9L229.4 408.8L233 412.5L236.9 418L241.5 423.8L244 422L245.9 424L250 420L255.6 412.5L261.2 405L266.9 396.6L270.6 392.8L274.4 388L278 386.2L281 384.4L283.8 385.3L287.5 384.4L289.4 387.2L293 392.8L296.9 402.2L301.5 411.6L306.2 420L309 424.7L311.9 422.8L316.5 421.9L318.4 427.5L322.2 428.4L325 435L330.6 435.4L333.4 430.3L337.2 429.4L340 426.6L342.8 430.9L346.6 431.2L350.3 438.8L354 446.2L357.8 446.2L360.6 450.4L368 449L375.6 449L380.3 452.8L384 452.2L387.8 442.5L390.6 442L395.3 446.2L400 444.8L403.8 449L412.2 451.9L415 445.9L419.7 448L422.5 450L425.3 449.6L429 456.6L432.8 459L436.6 454.7L439.4 445.3L445 444.4L449.7 442.5L452.5 435L455.3 420L457.2 403L460 384.4L462.8 374L464.7 376.9L467.5 370.3L469.4 381.6L472.2 391.9L476.9 394.7L482.5 397.5L485.3 391L488 389L491.9 394.7L497.5 392.8L503 391L506 393.8L508.8 403L512.5 402.2L515.3 397.5L521 399.4L525.6 397.5L529.4 404L532.2 409L534 407.8L536.9 412.5L539.7 413.4L542.5 406.9L546.2 409L551.9 410.6L555.6 408.8L558.4 412.5L563 414L566.9 413.4L569.7 411.6L573.4 406.9L577.2 407.8L580 409L583.4 409L584.7 440.6L588.4 446.2L592.2 453.8L594 456.6L597.8 459.4L600.6 460.3L603.4 457L607.2 463L610 467.8L614.7 468.4L616.6 470.6L619.4 466.9L623 468.8L626.9 470.6L632.5 468.8L638 466L641.9 467.2L645.6 470.6L648.4 475.3L650.9 485.6L654 491.2L657.8 488.4L662.5 487.5L666.2 485.6L668 488.4L671.9 483.8L675.6 484.7L681.2 481.9L685 482.8L688.8 480L691.6 471.6L694.4 470.6L696.2 473.4L700 467.8L702.8 470.6L704.7 466.9L707.5 471.6L710.3 466L714 470.6L717.8 473.4L720.6 473.4L723.4 477.2L727.2 472.5L730 476.2L735.6 474.8L739.4 476.2L744 478L746.9 473.4L751.6 472L754.4 477.2L758 479L761 477.2L764.7 481.9L769.4 479L773 481.9L776.9 484.7L780.6 481L786.2 482.8L791.9 483.4L795.6 485.6L798.4 482.8L802.2 487.5L806 485.2L809.7 484.7L811.6 498.8L814.4 504.4L817.2 508L819 519.4L820 519.4L821.9 510L825.6 509.6L828.4 514.7L833 513.8L837.8 510L842.5 511L845.3 517.5L849 521.2L853.8 520.3L857.5 524L861.2 526L864 529.7L866.9 525L869.7 524L872.5 517.5L875.3 520.3L878 529.7L881 520.3L883.8 511.9L886.6 520.3L891.2 524L895 519.4L898.8 511L900.6 515.6L904.4 512.8L909 508L913.8 510L919.4 508L924 513.8L927.8 511.9L930.6 516.6L934.4 520.3L938 518.4L941.9 513.8L943.8 516.6L946 505.3L947.9 515.6L951.2 518.4L954 524L956.9 528.8L960.6 533.4L963.4 526.9L966.2 517.5L968 508L969.5 490L971 478L973.8 468.8L976.6 464L979.4 462.8L982.2 462.2L985 465L987.8 469.7L990.6 474.4L993.4 479L997.2 481.9L1000 484.7L1003.8 485.6L1006.6 488.4L1009.4 489.4L1012.2 486.6L1014 490.3L1016.9 493L1017.8 496.9L1019.7 508L1022.5 519.4L1025.3 532.5L1028 541L1030 562.5L1031.9 585L1034.7 590.6L1038.4 594.4L1040 595L1041.9 599.5L1044.7 606.6L1048.4 610.3L1052.2 609.4L1054 605.6L1057.8 606.6L1062.5 603.8L1067.2 610.5L1072.8 612L1078.4 608.4L1085 613L1089.7 610.3L1095.3 615L1100 611.2L1102.8 622.5L1104.7 633.8L1105.6 648.8L1107.5 654.4L1109.8 651.6L1112.2 660L1116 664.7L1118.8 665.6L1121.6 675L1124.4 675.4L1128 673L1131.9 675L1134.7 675.4L1137.5 673" stroke="#d62728"/>
<path class="ln" d="M107.5 402.2L111.2 394.7L114 398.4L117.8 388L121.5 394.7L125.3 388L128 391L132 389L140.3 389.6L144 395.6L146.9 393.8L148.4 379.7L151.5 377.8L154.4 376L156.2 382.5L161 382.5L163.8 377.8L166.5 371.2L168.4 375L172.2 369.4L175 374L178.8 375L181.5 372.2L183.4 376L187.2 376.9L190 381.5L192.8 383.4L195.6 380.6L200.3 378.8L203 381L207.8 381.5L210.6 375L214.4 374L220 373L224.7 374L228.4 372.2L231.2 377.8L234 380.6L236.9 390L239.7 402.2L241.5 399.4L244.4 400.3L246.2 406.9L250 408.8L253.8 409.7L256.5 412L261.2 410.6L266 407.8L267.4 416.2L268.4 388L269.7 394.7L271.5 406.9L273.4 403L275.3 390L278 379.7L281 382.5L284.7 380.6L288.4 376.9L290.3 388L292.2 391L294.6 382.5L296.9 394.7L301.5 400.3L304.4 405L307.2 419L310 431.2L311.9 427.5L314.7 444.4L317.5 448L319.4 461.2L322.8 456.6L325 472.5L329.7 471.6L332 476.2L333 491.2L336.2 492.2L338 497.8L340 497.8L343.8 505.3L346.6 503.4L348.4 513.8L350.3 528.8L352.2 541.9L355 554L358.8 554L360.6 560.6L364.4 558.8L368 564.4L372.8 570L376.6 573.8L378.4 577.5L379.4 549.4L382.2 548.4L384 560.6L386.9 558.8L388.8 552.2L391.5 558.8L393.4 565.3L396.2 570L400 569L402.8 577.5L406.6 578.4L410.3 581.2L413 577.5L415 560.6L416.9 551.2L420.6 550.3L423.4 549.4L426.2 547.5L429 550.3L432.8 554L435.6 549.4L439.4 546.6L444 547.5L447.8 546.6L450.6 540L453.4 523L455.3 502.5L457.2 480L460 465L462.8 435L464 442.5L466 416.2L467.5 395.6L469 406.9L470.3 433L473 439.7L475 431.2L477.8 437.8L480.6 440.6L483.4 453.8L485.3 431.2L488 439.7L491.9 446.2L496.6 443.4L503 436.9L507.8 437.8L510.6 438.8L512.9 451.9L515.3 446.2L518 451L521.9 460.3L523.8 458.4L525.6 464L527.5 476.2L528.4 480L530.3 491.2L533 496.9L535 517.5L537.8 524L539.7 530.6L541.6 516.6L543.4 528.8L545.3 520.3L550 522.2L555.6 519.4L559.4 525L563 524.6L566 517.5L570.2 511.9L572.5 520.3L575.3 519.4L578 538L580 537.2L582.8 541L586.6 541L588.4 555L590.3 573.8L592.2 585L594 594.4L595.4 573.8L597.2 581.2L598.8 576.6L600.6 585L603.4 582.2L606.2 592.5L608 600L610 610.3L612.8 611.2L615.6 605.6L617 616L619.4 604.7L624.6 605.2L626.5 618.8L629 619.7L633.4 616.5L640 615.4L642.8 617.8L644.7 623.4L647.5 628L649.4 639.4L650.9 660L653.5 663.8L656.9 671.2L660.6 673L662.5 676.5L664.4 674L666.6 661.9L670 657.2L673.8 655.9L679.4 654.4L682.2 650.6L685 651.6L687.8 641.2L690.6 631.9L692.9 626.6L695.3 631L698 628.5L701 633.8L703.8 634.7L706 631L707.9 644L710.3 636.6L714 640.3L716.9 650.6L720.6 656.2L723.4 659L728 657.2L732.8 655.3L735.6 650.6L738.4 653.4L740.9 645.9L743 655.3L745 639.4L746.5 629L747.8 637.5L749.7 622.5L753.4 624.4L755.3 634.7L760 634L763.4 635.2L764.7 646.9L767.5 650.6L771.2 637.5L774 643L776.9 647.8L780.6 636.6L786.2 634L790 635.2L793.8 634L797.5 636.6L801.2 638.4L804 628L808.8 626.6L811.6 633.8L814.4 643L816.2 656.2L819 657.2L820 654.4L821.9 633.8L823.4 645L825.2 626.2L826.6 624.4L827.9 601.9L830.3 594L834 587.5L837.8 582.8L842.5 581.2L844 590.6L845.3 601.9L848 615L851 613L853.8 612.2L856.6 620.6L860.3 631.9L864 639.4L867.8 637.5L870.2 627.2L873.4 629L876.2 634.7L880 635.6L882.2 629L884.7 641.2L887.5 650.6L891.2 661.9L894 666.6L896 663.8L898.4 650.6L899.7 650.6L901.6 639.4L906.2 637.5L910 634.7L912.8 640.3L915.2 643L916.6 654.4L918.4 645L921.2 649.7L923 631L925.9 633.8L928.4 622.5L930.6 633.8L932.5 621.6L934.4 630L936.2 634.7L937.8 619.7L940 616.9L942.2 607.5L943.4 615L944.7 596.2L945.2 581.2L946.6 565.3L948.4 571.9L950.9 573.8L952.8 586L954.6 582.2L956.9 585L960.6 595.3L962 570L963.4 551.2L965.3 526.9L967.2 511.9L969 495L970 465L971.5 442.5L973.8 435L975.6 445.3L977.5 435L979 438.8L980.3 420L984.6 418L986.5 434L987.8 436.9L989.7 433L991.6 440.6L995.3 443.4L1000 446.2L1002.8 447.2L1005.6 445.3L1007.5 449L1010.3 451.9L1012.8 443.4L1014 451.9L1016.9 448L1018.8 459.4L1020.6 473.4L1022.5 457.5L1024.4 453.8L1027.2 446.2L1031 448L1033.8 451L1035.6 453.8L1037.5 446.2L1040 445.3L1042.8 452.8L1045.6 453.4L1048.4 465L1051.2 462.2L1054 456.6L1058.8 459L1060.2 440.6L1063.4 435L1066.2 438.8L1068 444.4L1071 444L1072.8 451L1074.7 452.8L1077.5 459.4L1079.8 465L1082.2 472.5L1084 483.8L1085 490.3L1087.8 495L1091.6 488.4L1093.4 494L1096.2 498.8L1099 497.8L1101.9 503.4L1103.8 502.5L1105.2 525L1107.5 522.2L1110.3 522.2L1111.6 551.2L1113 566.2L1115 558.8L1117.8 556.9L1120.2 553L1121.6 564.4L1122.9 574.7L1124.4 571.9L1126.2 562.5L1128 571.9L1131 570L1132.8 573.8L1134.7 564.4L1137.9 562.5" stroke="#9467bd"/>
<path class="ln" d="M108.4 674L108.4 672.8L151 672.8L151 649.3L347 649.3L348.4 672.2L351.2 676L378.4 676.5L379.5 568L421 568L421 544.7L452.5 544.7L452.5 523.5L455.8 523.5L456.2 496L456.6 523.5L460.4 523.5L460.6 420.4L469 420.4L469 394.3L484.8 394.3L484.8 369.4L502.8 369.4L502.8 395.2L530.3 395.2L530.3 373.5L571.6 373.5L571.6 400.7L625.4 400.7L625.4 425.2L649.4 425.2L649.4 449.4L809.7 449.4L809.9 476.6L819 476.6L819.2 445.2L885.2 445.2L887 493L896.9 493L897.4 470.6L898 496L935.3 496L937.2 447.8L941.5 447.8L941.5 424.3L965.3 424.3L969 426L970 403.5L991.6 403.5L991.6 375L1037 375L1037 405.6L1043.4 405.6L1043.6 469L1065.9 469L1065.9 482.8L1079.8 482.8L1079.8 455.6L1116 455.6L1116.2 479L1121 479L1121.6 506.2L1137.9 506.2" stroke="#8c564b"/>
</g>
<line x1="107.8" y1="368.8" x2="107.8" y2="677.5" stroke="#262626" stroke-width="1.3"/>
<line x1="107.1" y1="677.1" x2="1138" y2="677.1" stroke="#262626" stroke-width="1.3"/>
<line x1="102.2" y1="676.9" x2="107.8" y2="676.9" stroke="#222" stroke-width="1.2"/>
<line x1="104.2" y1="664.6" x2="107.8" y2="664.6" stroke="#222" stroke-width="1"/>
<line x1="104.2" y1="652.3" x2="107.8" y2="652.3" stroke="#222" stroke-width="1"/>
<line x1="104.2" y1="640" x2="107.8" y2="640" stroke="#222" stroke-width="1"/>
<line x1="104.2" y1="627.7" x2="107.8" y2="627.7" stroke="#222" stroke-width="1"/>
<line x1="102.2" y1="615.4" x2="107.8" y2="615.4" stroke="#222" stroke-width="1.2"/>
<line x1="104.2" y1="603.1" x2="107.8" y2="603.1" stroke="#222" stroke-width="1"/>
<line x1="104.2" y1="590.8" x2="107.8" y2="590.8" stroke="#222" stroke-width="1"/>
<line x1="104.2" y1="578.5" x2="107.8" y2="578.5" stroke="#222" stroke-width="1"/>
<line x1="104.2" y1="566.2" x2="107.8" y2="566.2" stroke="#222" stroke-width="1"/>
<line x1="102.2" y1="553.9" x2="107.8" y2="553.9" stroke="#222" stroke-width="1.2"/>
<line x1="104.2" y1="541.6" x2="107.8" y2="541.6" stroke="#222" stroke-width="1"/>
<line x1="104.2" y1="529.3" x2="107.8" y2="529.3" stroke="#222" stroke-width="1"/>
<line x1="104.2" y1="517" x2="107.8" y2="517" stroke="#222" stroke-width="1"/>
<line x1="104.2" y1="504.7" x2="107.8" y2="504.7" stroke="#222" stroke-width="1"/>
<line x1="102.2" y1="492.4" x2="107.8" y2="492.4" stroke="#222" stroke-width="1.2"/>
<line x1="104.2" y1="480.1" x2="107.8" y2="480.1" stroke="#222" stroke-width="1"/>
<line x1="104.2" y1="467.8" x2="107.8" y2="467.8" stroke="#222" stroke-width="1"/>
<line x1="104.2" y1="455.5" x2="107.8" y2="455.5" stroke="#222" stroke-width="1"/>
<line x1="104.2" y1="443.2" x2="107.8" y2="443.2" stroke="#222" stroke-width="1"/>
<line x1="102.2" y1="430.9" x2="107.8" y2="430.9" stroke="#222" stroke-width="1.2"/>
<line x1="104.2" y1="418.6" x2="107.8" y2="418.6" stroke="#222" stroke-width="1"/>
<line x1="104.2" y1="406.3" x2="107.8" y2="406.3" stroke="#222" stroke-width="1"/>
<line x1="104.2" y1="394" x2="107.8" y2="394" stroke="#222" stroke-width="1"/>
<line x1="104.2" y1="381.7" x2="107.8" y2="381.7" stroke="#222" stroke-width="1"/>
<line x1="102.2" y1="369.4" x2="107.8" y2="369.4" stroke="#222" stroke-width="1.2"/>
<text class="tk" x="94.3" y="371.8" text-anchor="end">1.00</text>
<text class="tk" x="97" y="433.3" text-anchor="end">800.00 m</text>
<text class="tk" x="97" y="494.8" text-anchor="end">600.00 m</text>
<text class="tk" x="97" y="556.3" text-anchor="end">400.00 m</text>
<text class="tk" x="97" y="617.8" text-anchor="end">200.00 m</text>
<text class="tk" x="94.3" y="679.3" text-anchor="end">0.00</text>
<line x1="192.4" y1="675.4" x2="192.4" y2="682.4" stroke="#222" stroke-width="1.2"/>
<text class="tk" x="192.4" y="692.2" text-anchor="middle">2/22</text>
<line x1="412.2" y1="675.4" x2="412.2" y2="682.4" stroke="#222" stroke-width="1.2"/>
<text class="tk" x="412.2" y="692.2" text-anchor="middle">2/25</text>
<line x1="703.4" y1="675.4" x2="703.4" y2="682.4" stroke="#222" stroke-width="1.2"/>
<text class="tk" x="703.4" y="692.2" text-anchor="middle">3/01</text>
<line x1="922.2" y1="675.4" x2="922.2" y2="682.4" stroke="#222" stroke-width="1.2"/>
<text class="tk" x="922.2" y="692.2" text-anchor="middle">3/04</text>
<text class="it" x="623.5" y="710.6" text-anchor="middle" style="font-size:11.6px;">Date (UTC)</text>
<text class="it" transform="translate(28.3,522) rotate(-90)" text-anchor="middle" style="font-size:11.6px;">Norm. CVD (arb. u.)</text>
<rect x="1140.5" y="539" width="122.5" height="138" fill="#fff" fill-opacity="0.8" stroke="#f2f2f2" stroke-width="1"/>
<line x1="1147.3" y1="556.5" x2="1164.7" y2="556.5" stroke="#1f77b4" stroke-width="1.6"/>
<text class="lg" x="1169.4" y="559.9">all orders</text>
<line x1="1147.3" y1="577" x2="1164.7" y2="577" stroke="#ff7f0e" stroke-width="1.6"/>
<text class="lg" x="1169.4" y="580.4">$100 to $1k</text>
<line x1="1147.3" y1="597.4" x2="1164.7" y2="597.4" stroke="#2ca02c" stroke-width="1.6"/>
<text class="lg" x="1169.4" y="600.8">$1k to $10k</text>
<line x1="1147.3" y1="617.9" x2="1164.7" y2="617.9" stroke="#d62728" stroke-width="1.6"/>
<text class="lg" x="1169.4" y="621.2">$10k to $100k</text>
<line x1="1147.3" y1="638.3" x2="1164.7" y2="638.3" stroke="#9467bd" stroke-width="1.6"/>
<text class="lg" x="1169.4" y="641.7">$100k to $1M</text>
<line x1="1147.3" y1="658.8" x2="1164.7" y2="658.8" stroke="#8c564b" stroke-width="1.6"/>
<text class="lg" x="1169.4" y="662.1">$1M to $10M</text>
</svg>
</body></html>
